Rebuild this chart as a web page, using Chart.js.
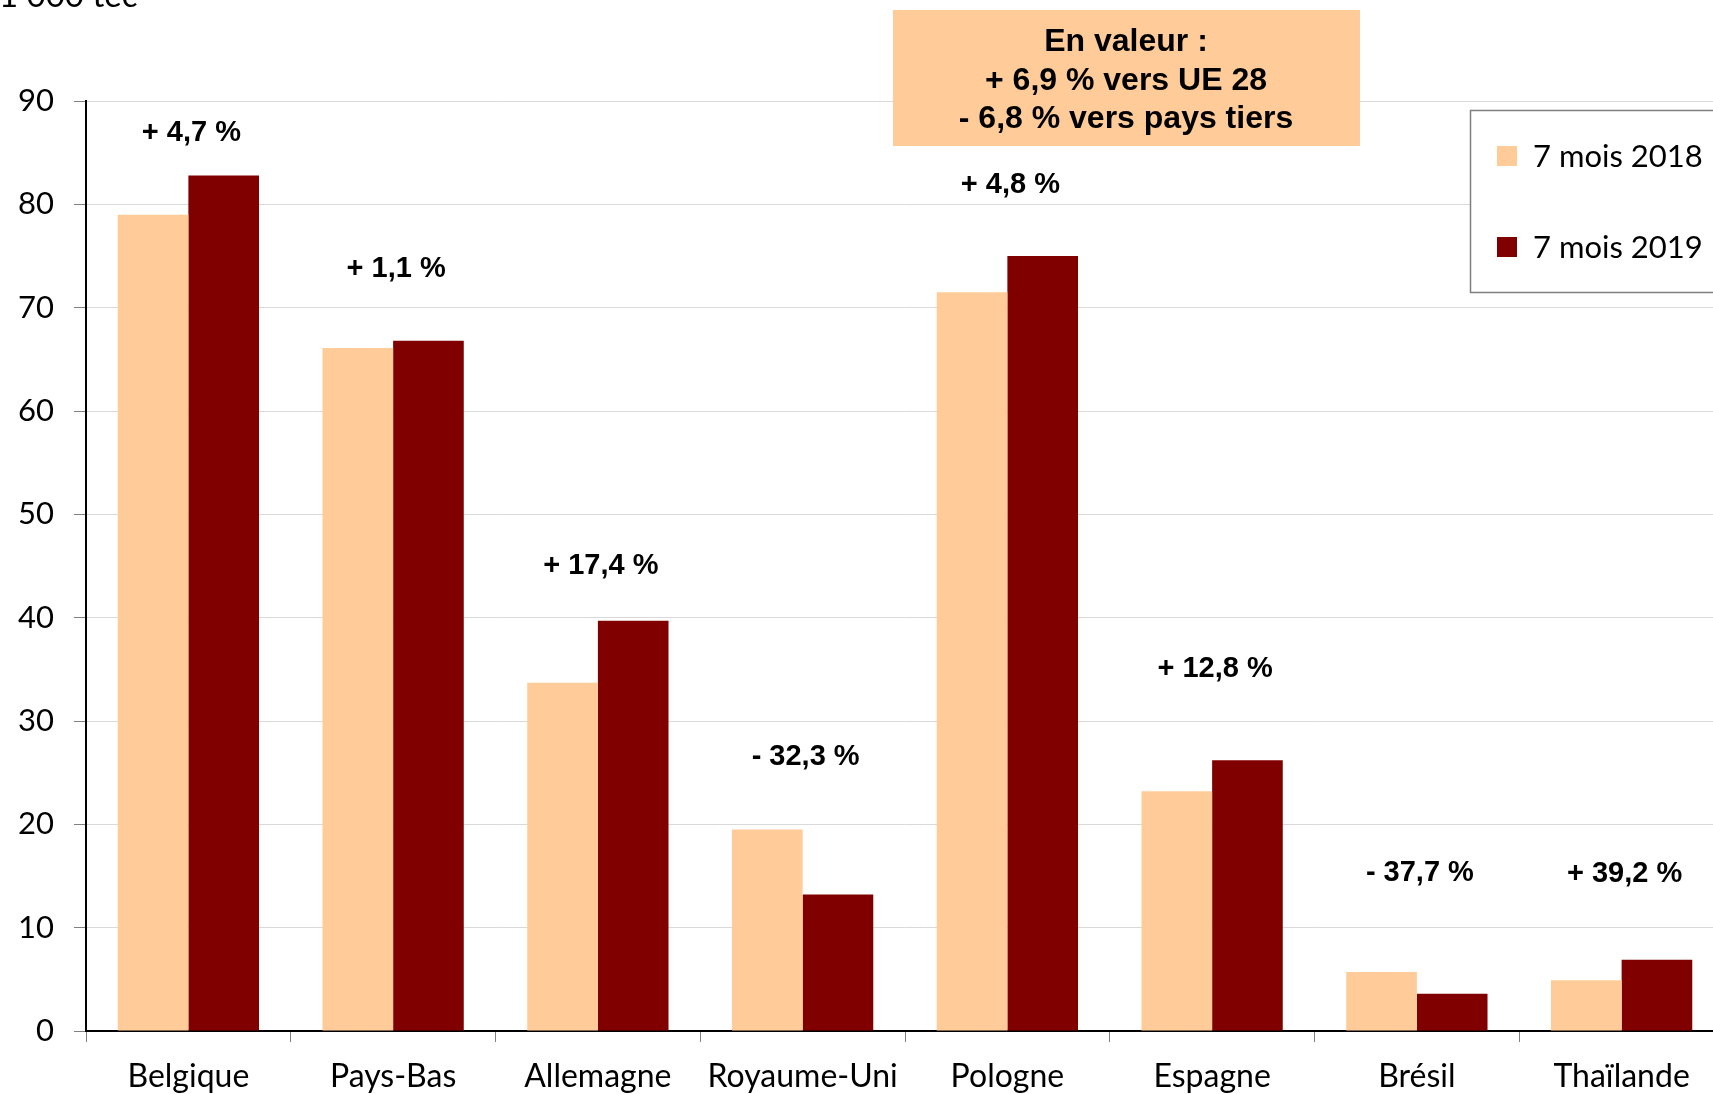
<!DOCTYPE html>
<html lang="fr">
<head>
    <meta charset="UTF-8">
    <title>Exportations 7 mois 2018 / 2019</title>
    <script src="https://cdn.jsdelivr.net/npm/chart.js"></script>
    <style>
        * {
            margin: 0;
            padding: 0;
            box-sizing: border-box;
        }
        body {
            width: 1713px;
            height: 1094px;
            overflow: hidden;
            background-color: #ffffff;
        }
        #chart {
            position: absolute;
            left: 0;
            top: 0;
        }
    </style>
</head>
<body>
    <canvas id="chart" width="1726" height="1094"></canvas>

    <script>
        // data (1 000 tec)
        const countries = ['Belgique', 'Pays-Bas', 'Allemagne', 'Royaume-Uni', 'Pologne', 'Espagne', 'Brésil', 'Thaïlande'];
        const values2018 = [79.0, 66.1, 33.7, 19.5, 71.5, 23.2, 5.7, 4.9];
        const values2019 = [82.8, 66.8, 39.7, 13.2, 75.0, 26.2, 3.6, 6.9];
        const changes = ['+ 4,7 %', '+ 1,1 %', '+ 17,4 %', '- 32,3 %', '+ 4,8 %', '+ 12,8 %', '- 37,7 %', '+ 39,2 %'];
        const seriesNames = ['7 mois 2018', '7 mois 2019'];
        const boxLines = ['En valeur :', '+ 6,9 % vers UE 28', '- 6,8 % vers pays tiers'];
        const unitLabel = '1 000 tec';

        // where the % labels sit, in axis units
        const changeLabelY = [86.9, 73.7, 45.0, 26.5, 81.9, 35.0, 15.3, 15.2];

        const peach = '#FFCC99';
        const maroon = '#800000';

        const overlay = {
            id: 'overlay',
            afterDraw(chart) {
                const ctx = chart.ctx;
                const x = chart.scales.x;
                const y = chart.scales.y;
                ctx.save();

                // unit, cut at the top
                ctx.fillStyle = '#000';
                ctx.font = '33px Lato';
                ctx.textAlign = 'left';
                ctx.textBaseline = 'alphabetic';
                ctx.fillText(unitLabel, -1, 7);

                // % change per country
                ctx.font = 'bold 29px "Liberation Sans"';
                ctx.textAlign = 'center';
                ctx.textBaseline = 'middle';
                changes.forEach((t, i) => {
                    ctx.fillText(t, x.getPixelForValue(i) + 3, y.getPixelForValue(changeLabelY[i]));
                });

                // value box
                ctx.fillStyle = peach;
                ctx.fillRect(893, 10, 467, 136);
                ctx.fillStyle = '#000';
                ctx.font = 'bold 32px "Liberation Sans"';
                const lineY = [42, 81, 119];
                boxLines.forEach((t, i) => ctx.fillText(t, 1126, lineY[i]));

                // legend
                ctx.fillStyle = '#fff';
                ctx.fillRect(1470, 110, 270, 182);
                ctx.strokeStyle = '#7f7f7f';
                ctx.lineWidth = 1.5;
                ctx.strokeRect(1470.5, 110.5, 270, 182);
                const legY = [156, 247];
                ctx.font = '31px Lato';
                ctx.textAlign = 'left';
                chart.data.datasets.forEach((ds, i) => {
                    ctx.fillStyle = ds.backgroundColor;
                    ctx.fillRect(1497, legY[i] - 10, 20, 20);
                    ctx.fillStyle = '#000';
                    ctx.fillText(ds.label, 1533, legY[i] + 1);
                });

                ctx.restore();
            }
        };

        new Chart(document.getElementById('chart'), {
            type: 'bar',
            data: {
                labels: countries,
                datasets: [
                    { label: seriesNames[0], data: values2018, backgroundColor: peach },
                    { label: seriesNames[1], data: values2019, backgroundColor: maroon }
                ]
            },
            options: {
                responsive: false,
                animation: false,
                devicePixelRatio: 1,
                categoryPercentage: 0.69,
                barPercentage: 1.0,
                layout: { padding: { top: 101, right: 2, left: 0, bottom: 0 } },
                plugins: {
                    legend: { display: false },
                    tooltip: { enabled: false }
                },
                scales: {
                    x: {
                        afterFit(scale) { scale.height = 63; },
                        grid: {
                            offset: true,
                            drawOnChartArea: false,
                            tickLength: 11,
                            color: '#808080'
                        },
                        border: { color: '#000', width: 2 },
                        ticks: {
                            color: '#000',
                            font: { family: 'Lato', size: 32 },
                            padding: 15,
                            maxRotation: 0,
                            autoSkip: false
                        }
                    },
                    y: {
                        min: 0,
                        max: 90,
                        afterFit(scale) { scale.width = 86; },
                        grid: {
                            color: '#d9d9d9',
                            tickColor: '#808080',
                            tickLength: 12
                        },
                        border: { color: '#000', width: 2 },
                        ticks: {
                            stepSize: 10,
                            color: '#000',
                            font: { family: 'Lato', size: 31 },
                            padding: 20
                        }
                    }
                }
            },
            plugins: [overlay]
        });
    </script>
</body>
</html>
